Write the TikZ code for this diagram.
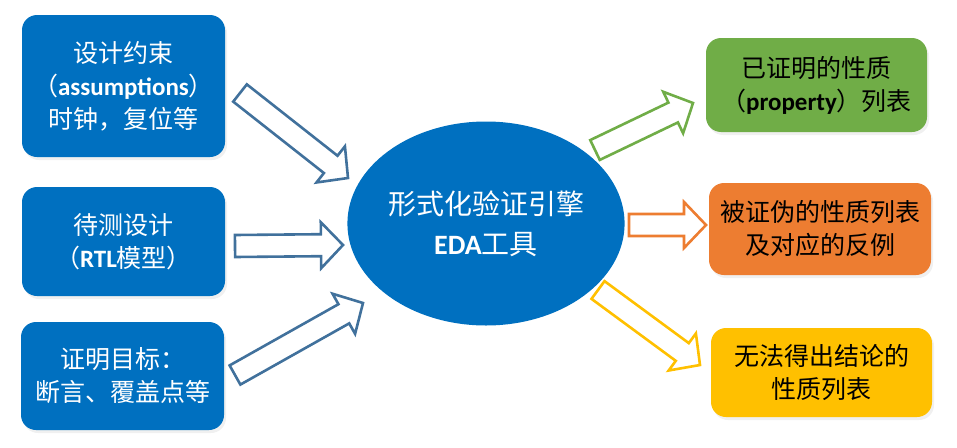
\documentclass[tikz,border=0pt]{standalone}
\usepackage{fontspec}
\setmainfont{Carlito}
\newfontfamily\cjk{Noto Sans CJK SC}
\newfontfamily\carl{Carlito}
\usetikzlibrary{calc,shadows,shapes.geometric}
\definecolor{boxblue}{HTML}{0070C0}
\definecolor{arrblue}{HTML}{41719C}
\definecolor{boxgreen}{HTML}{70AD47}
\definecolor{boxorange}{HTML}{ED7D31}
\definecolor{boxyellow}{HTML}{FFC000}
\newcommand\lat[1]{{\carl\bfseries #1}}
\newcommand\blockarr[3]{%
  \coordinate (N) at ($(#2)!22pt!(#1)$);
  \draw[blockarrow,draw=#3]
    ($(#1)!11pt!90:(#2)$) -- ($(N)!11pt!-90:(#1)$) -- ($(N)!23pt!-90:(#1)$) --
    (#2) -- ($(N)!23pt!90:(#1)$) -- ($(N)!11pt!90:(#1)$) --
    ($(#1)!11pt!-90:(#2)$) -- cycle;}
\begin{document}
\begin{tikzpicture}[x=1pt,y=-1pt,
  box/.style={rounded corners=15pt,minimum width=203pt,inner sep=0pt,align=center,
    font=\cjk\fontsize{25pt}{33pt}\selectfont,
    drop shadow={opacity=0.12,shadow xshift=2pt,shadow yshift=-3pt}},
  lbox/.style={box,fill=boxblue,text=white},
  rbox/.style={box,minimum width=221pt,text=black},
  blockarrow/.style={fill=white,line width=2.6pt,line join=miter}]
\useasboundingbox (0,0) rectangle (957,447);
% left boxes
\node[lbox,minimum height=142pt] (b1) at (123.5,86) {设计约束\\（\lat{assumptions}）\\时钟，复位等};
\node[lbox,minimum height=109pt] (b2) at (123.5,241.5) {待测设计\\（\lat{RTL}模型）};
\node[lbox,minimum height=108pt] (b3) at (122.5,376) {证明目标：\\断言、覆盖点等};
% ellipse
\node[ellipse,fill=boxblue,text=white,minimum width=274pt,minimum height=204pt,inner sep=0pt,
  align=center,font=\cjk\fontsize{28pt}{40pt}\selectfont] (e) at (486,223.5)
  {形式化验证引擎\\\lat{EDA}工具};
% right boxes
\node[rbox,fill=boxgreen,minimum height=94pt] (g) at (816.5,85) {已证明的性质\\（\lat{property}）列表};
\node[rbox,fill=boxorange,minimum height=92pt,minimum width=222pt] (o) at (820,229) {被证伪的性质列表\\及对应的反例};
\node[rbox,fill=boxyellow,minimum height=89pt] (y) at (821.5,372.5) {无法得出结论的\\性质列表};
% arrow end points
\coordinate (a1t) at (240,93);  \coordinate (a1h) at (348,178);
\coordinate (a2t) at (235,246); \coordinate (a2h) at (343,245);
\coordinate (a3t) at (235,375); \coordinate (a3h) at (363,303);
\coordinate (a4t) at (595,150); \coordinate (a4h) at (693,103);
\coordinate (a5t) at (629,225); \coordinate (a5h) at (706,225);
\coordinate (a6t) at (598,290); \coordinate (a6h) at (700,365);
\blockarr{a1t}{a1h}{arrblue}
\blockarr{a2t}{a2h}{arrblue}
\blockarr{a3t}{a3h}{arrblue}
\blockarr{a4t}{a4h}{boxgreen}
\blockarr{a5t}{a5h}{boxorange}
\blockarr{a6t}{a6h}{boxyellow}
\end{tikzpicture}
\end{document}
